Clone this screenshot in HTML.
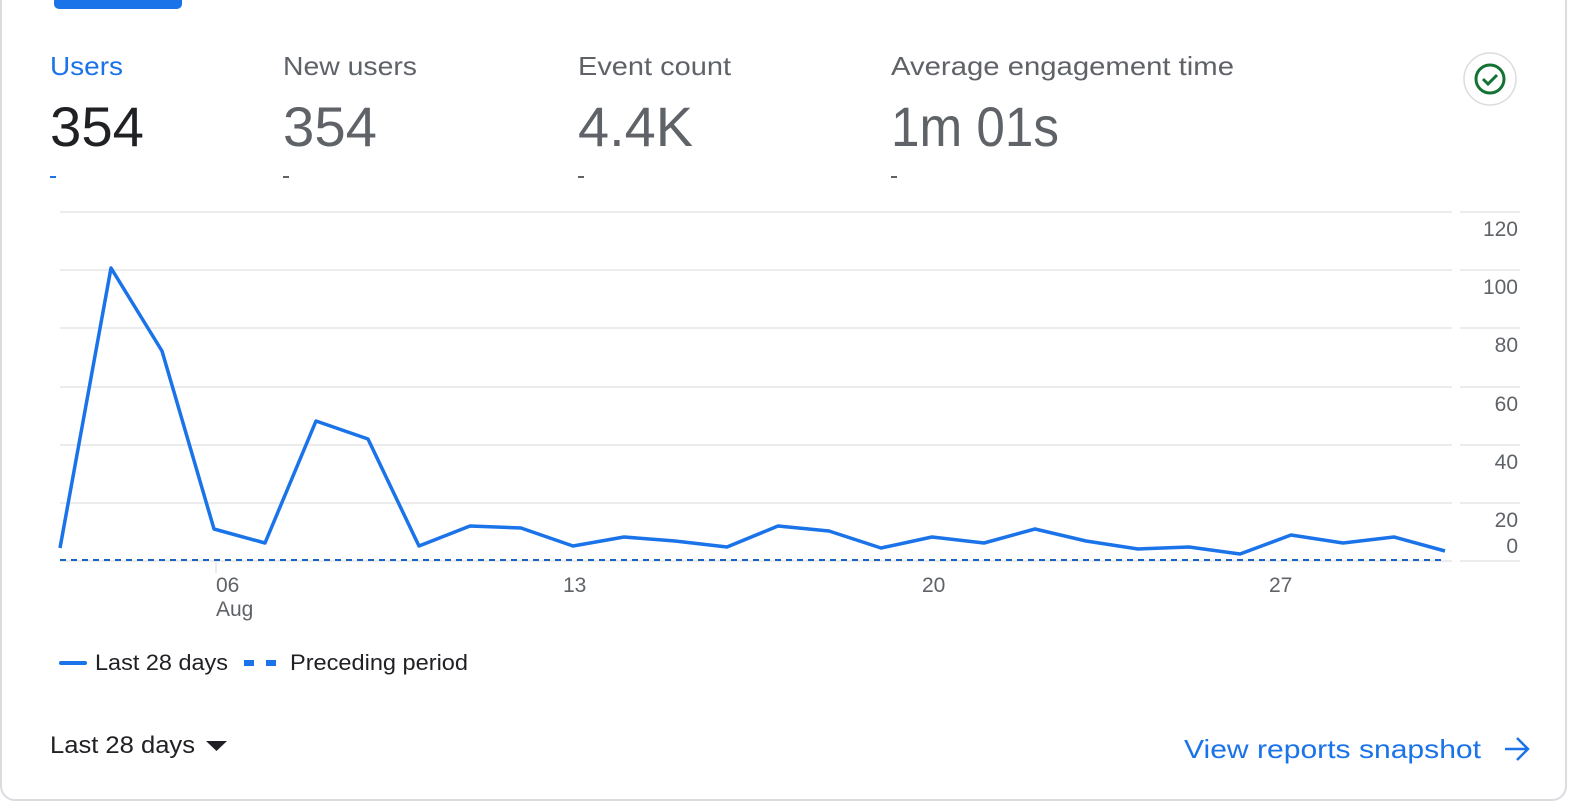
<!DOCTYPE html>
<html><head><meta charset="utf-8"><style>
html,body{margin:0;padding:0;background:#fff;}
svg{display:block;font-family:"Liberation Sans",sans-serif;}
</style></head><body>
<svg width="1572" height="804" viewBox="0 0 1572 804">
<rect x="1" y="-20" width="1565" height="820" rx="14" fill="#fff" stroke="#dadce0" stroke-width="2"/>
<rect x="54" y="-6" width="128" height="15" rx="5" fill="#1a73e8"/>
<text x="50" y="75" font-size="26" fill="#1a73e8" textLength="73" lengthAdjust="spacingAndGlyphs">Users</text>
<text x="283" y="75" font-size="26" fill="#5f6368" textLength="134" lengthAdjust="spacingAndGlyphs">New users</text>
<text x="578" y="75" font-size="26" fill="#5f6368" textLength="153" lengthAdjust="spacingAndGlyphs">Event count</text>
<text x="891" y="75" font-size="26" fill="#5f6368" textLength="343" lengthAdjust="spacingAndGlyphs">Average engagement time</text>
<text x="50" y="146" font-size="56" fill="#202124" textLength="94" lengthAdjust="spacingAndGlyphs">354</text>
<text x="283" y="146" font-size="56" fill="#5f6368" textLength="94" lengthAdjust="spacingAndGlyphs">354</text>
<text x="578" y="146" font-size="56" fill="#5f6368" textLength="115" lengthAdjust="spacingAndGlyphs">4.4K</text>
<text x="891" y="146" font-size="56" fill="#5f6368" textLength="168" lengthAdjust="spacingAndGlyphs">1m 01s</text>
<rect x="50" y="176" width="6" height="2" fill="#1a73e8"/>
<rect x="283" y="176" width="6" height="2" fill="#5f6368"/>
<rect x="578" y="176" width="6" height="2" fill="#5f6368"/>
<rect x="891" y="176" width="6" height="2" fill="#5f6368"/>
<circle cx="1490" cy="79" r="26" fill="#fff" stroke="#dadce0" stroke-width="1.5"/>
<circle cx="1490" cy="79" r="14" fill="none" stroke="#137333" stroke-width="3"/>
<path d="M1483 79 l5 5 l9 -9" fill="none" stroke="#137333" stroke-width="3"/>
<g stroke="#e6e6e6" stroke-width="1.5">
<line x1="60" y1="212" x2="1452" y2="212"/><line x1="1460" y1="212" x2="1520" y2="212"/>
<line x1="60" y1="270" x2="1452" y2="270"/><line x1="1460" y1="270" x2="1520" y2="270"/>
<line x1="60" y1="328" x2="1452" y2="328"/><line x1="1460" y1="328" x2="1520" y2="328"/>
<line x1="60" y1="387" x2="1452" y2="387"/><line x1="1460" y1="387" x2="1520" y2="387"/>
<line x1="60" y1="445" x2="1452" y2="445"/><line x1="1460" y1="445" x2="1520" y2="445"/>
<line x1="60" y1="503" x2="1452" y2="503"/><line x1="1460" y1="503" x2="1520" y2="503"/>
<line x1="60" y1="561" x2="1452" y2="561"/><line x1="1460" y1="561" x2="1520" y2="561"/>
<line x1="216" y1="561" x2="216" y2="573"/>
</g>
<g font-size="21" fill="#5f6368" text-anchor="end">
<text x="1518" y="236">120</text><text x="1518" y="294">100</text><text x="1518" y="352">80</text>
<text x="1518" y="411">60</text><text x="1518" y="469">40</text><text x="1518" y="527">20</text><text x="1518" y="553">0</text>
</g>
<g font-size="21" fill="#5f6368">
<text x="216" y="592">06</text><text x="216" y="616">Aug</text>
<text x="563" y="592">13</text><text x="922" y="592">20</text><text x="1269" y="592">27</text>
</g>
<line x1="60" y1="560" x2="1445" y2="560" stroke="#1a62c4" stroke-width="2" stroke-dasharray="6 5"/>
<polyline fill="none" stroke="#1a73e8" stroke-width="3.5" stroke-linejoin="round" points="60,548 111,268 162,351 214,529 265,543 316,421 368,439 419,546 470,526 521,528 573,546 624,537 675,541 727,547 778,526 829,531 881,548 932,537 984,543 1035,529 1086,541 1138,549 1189,547 1240,554 1291,535 1343,543 1394,537 1445,551"/>
<line x1="61" y1="663" x2="85" y2="663" stroke="#1a73e8" stroke-width="4" stroke-linecap="round"/>
<text x="95" y="670" font-size="22" fill="#202124" textLength="133" lengthAdjust="spacingAndGlyphs">Last 28 days</text>
<rect x="244" y="660" width="10" height="6" fill="#1a73e8"/><rect x="266" y="660" width="10" height="6" fill="#1a73e8"/>
<text x="290" y="670" font-size="22" fill="#202124" textLength="178" lengthAdjust="spacingAndGlyphs">Preceding period</text>
<text x="50" y="753" font-size="24" fill="#202124" textLength="145" lengthAdjust="spacingAndGlyphs">Last 28 days</text>
<path d="M206 741 h21 l-10.5 10z" fill="#202124"/>
<text x="1184" y="758" font-size="26" fill="#1a73e8" textLength="297" lengthAdjust="spacingAndGlyphs">View reports snapshot</text>
<path d="M1505 749 h22 M1517 738 l11 11 l-11 11" fill="none" stroke="#1a73e8" stroke-width="2.5"/>
</svg>
</body></html>
